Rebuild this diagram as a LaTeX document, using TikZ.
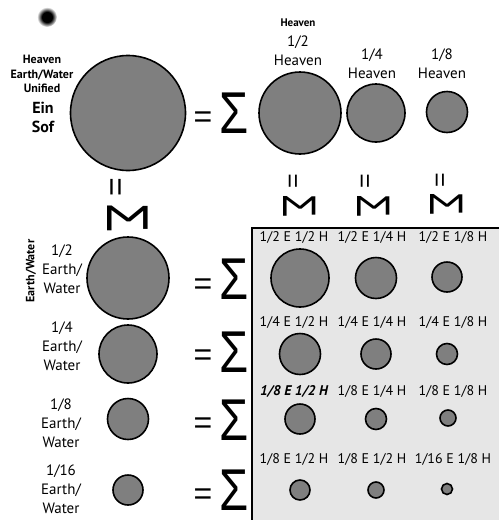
\documentclass[tikz,border=0pt]{standalone}
\usepackage{fontspec}
\setmainfont{PT Sans}
\newfontfamily\symfont{Liberation Sans}
\usetikzlibrary{positioning}

\definecolor{discgray}{HTML}{7F7F7F}
\definecolor{panelgray}{HTML}{E6E6E6}
\pgfdeclareradialshading{blurdot}{\pgfpoint{0bp}{0bp}}{color(0bp)=(black); color(13bp)=(black); color(25bp)=(white); color(50bp)=(white)}
\newcommand{\sumglyph}{\scalebox{0.8}[1]{Σ}}

\begin{document}
\begin{tikzpicture}[x=1pt, y=-1pt,
        disc/.style={circle, draw=black, line width=1.6pt, fill=discgray, inner sep=0pt, minimum size=#1},
        lbl/.style={align=center, inner sep=0pt, font=\fontsize{15}{19}\selectfont},
        cell/.style={inner sep=0pt, font=\fontsize{14}{17}\selectfont},
        tag/.style={align=center, inner sep=0pt, font=\bfseries\fontsize{12}{14.5}\selectfont},
        eqsign/.style={inner sep=0pt, font=\symfont\fontsize{32}{32}\selectfont},
        smalleq/.style={inner sep=0pt, font=\symfont\fontsize{25}{25}\selectfont},
        sumsign/.style={inner sep=0pt, font=\symfont\fontsize{59}{59}\selectfont},
        smallsum/.style={inner sep=0pt, font=\symfont\fontsize{47}{47}\selectfont},
        panel/.style={rectangle, fill=panelgray, inner sep=0pt, anchor=north west}
    ]
        \useasboundingbox (0,0) rectangle (499,520);

        % PANEL OF PRODUCTS
        \node[panel, minimum width=247pt, minimum height=292pt] (grid_panel) at (252,228) {};
        \draw[line width=1.5pt] (grid_panel.south west) -- (grid_panel.north west) -- (grid_panel.north east);

        % POINT
        \coordinate (spark) at (47,17);
        \shade[shading=blurdot] (spark) circle (10);

        % EIN SOF
        \node[disc=115] (ein_sof) at (128,113) {};
        \node[tag] (unified_tag) at (42,74) {Heaven\\Earth/Water\\Unified};
        \node[align=center, inner sep=0pt, font=\bfseries\fontsize{16}{19}\selectfont] (ein_tag) at (43,117) {Ein\\Sof};
        \node[eqsign] (top_eq) at (203,120) {=};
        \node[sumsign] (top_sum) at (234,113) {\sumglyph};

        % HEAVEN ROW
        \node[tag, font=\bfseries\fontsize{11}{13}\selectfont] (heaven_tag) at (298,23) {Heaven};
        \node[lbl] (heaven_half_lbl) at (298,51) {1/2\\Heaven};
        \node[lbl] (heaven_quarter_lbl) at (372,64) {1/4\\Heaven};
        \node[lbl] (heaven_eighth_lbl) at (442,64) {1/8\\Heaven};

        \node[disc=82] (heaven_half) at (300,113) {};
        \node[disc=58] (heaven_quarter) at (376,113) {};
        \node[disc=41] (heaven_eighth) at (447,112) {};

        % ROTATED SUMS
        \node[eqsign, rotate=90] (top_par) at (119,187) {=};
        \node[sumsign, rotate=-90] (top_m) at (128,218) {\sumglyph};

        \node[smalleq, rotate=90] (half_par) at (295,181) {=};
        \node[smallsum, rotate=-90] (half_m) at (300,206) {\sumglyph};
        \node[smalleq, rotate=90] (quarter_par) at (367,181) {=};
        \node[smallsum, rotate=-90] (quarter_m) at (374,206) {\sumglyph};
        \node[smalleq, rotate=90] (eighth_par) at (442,180) {=};
        \node[smallsum, rotate=-90] (eighth_m) at (447,204) {\sumglyph};

        % EARTH/WATER COLUMN
        \node[tag, rotate=90] (earth_tag) at (31,271) {Earth/Water};

        \node[lbl] (earth_half_lbl) at (62,269) {1/2\\Earth/\\Water};
        \node[lbl] (earth_quarter_lbl) at (62,346) {1/4\\Earth/\\Water};
        \node[lbl] (earth_eighth_lbl) at (61,423) {1/8\\Earth/\\Water};
        \node[lbl] (earth_sixteenth_lbl) at (61,489) {1/16\\Earth/\\Water};

        \node[disc=82] (earth_half) at (128,278) {};
        \node[disc=58] (earth_quarter) at (128,354) {};
        \node[disc=41] (earth_eighth) at (128,419) {};
        \node[disc=30] (earth_sixteenth) at (128,490) {};

        \node[eqsign] (half_eq) at (203,287) {=};
        \node[sumsign] (half_sum) at (234,279) {\sumglyph};
        \node[eqsign] (quarter_eq) at (203,358) {=};
        \node[sumsign] (quarter_sum) at (234,352) {\sumglyph};
        \node[eqsign] (eighth_eq) at (203,426) {=};
        \node[sumsign] (eighth_sum) at (234,420) {\sumglyph};
        \node[eqsign] (sixteenth_eq) at (203,497) {=};
        \node[sumsign] (sixteenth_sum) at (234,490) {\sumglyph};

        % PRODUCTS - ROW 1
        \node[cell] (cell_aa_lbl) at (294,237) {1/2 E 1/2 H};
        \node[cell] (cell_ab_lbl) at (372,237) {1/2 E 1/4 H};
        \node[cell] (cell_ac_lbl) at (453,237) {1/2 E 1/8 H};
        \node[disc=58] (cell_aa) at (300,278) {};
        \node[disc=41] (cell_ab) at (376,278) {};
        \node[disc=30] (cell_ac) at (447,277) {};

        % PRODUCTS - ROW 2
        \node[cell] (cell_ba_lbl) at (294,322) {1/4 E 1/2 H};
        \node[cell] (cell_bb_lbl) at (372,322) {1/4 E 1/4 H};
        \node[cell] (cell_bc_lbl) at (453,322) {1/4 E 1/8 H};
        \node[disc=41] (cell_ba) at (300,354) {};
        \node[disc=30] (cell_bb) at (376,354) {};
        \node[disc=21] (cell_bc) at (447,354) {};

        % PRODUCTS - ROW 3
        \node[cell] (cell_ca_lbl) at (294,391) {\bfseries\itshape 1/8 E 1/2 H};
        \node[cell] (cell_cb_lbl) at (372,391) {1/8 E 1/4 H};
        \node[cell] (cell_cc_lbl) at (453,391) {1/8 E 1/8 H};
        \node[disc=30] (cell_ca) at (300,419) {};
        \node[disc=21] (cell_cb) at (376,419) {};
        \node[disc=16] (cell_cc) at (448,418) {};

        % PRODUCTS - ROW 4
        \node[cell] (cell_da_lbl) at (294,459) {1/8 E 1/2 H};
        \node[cell] (cell_db_lbl) at (372,459) {1/8 E 1/2 H};
        \node[cell] (cell_dc_lbl) at (453,459) {1/16 E 1/8 H};
        \node[disc=20] (cell_da) at (300,490) {};
        \node[disc=16] (cell_db) at (376,490) {};
        \node[disc=11] (cell_dc) at (447,489) {};

    \end{tikzpicture}
\end{document}
